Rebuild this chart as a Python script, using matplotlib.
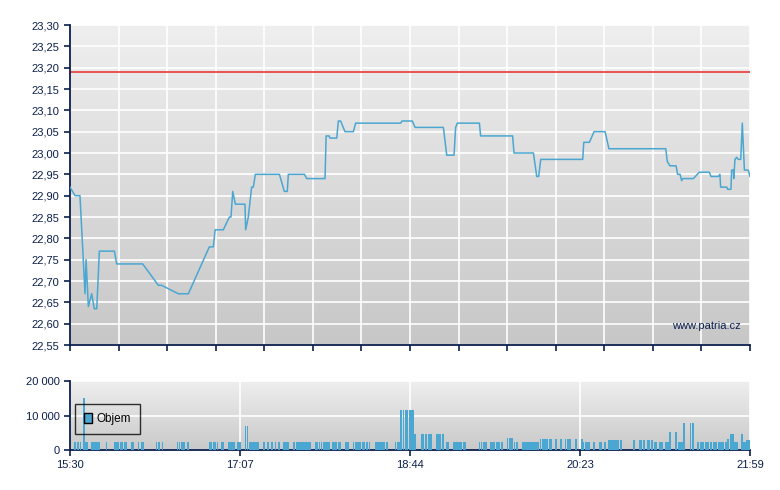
import numpy as np
import matplotlib
matplotlib.use("Agg")
import matplotlib.pyplot as plt
from matplotlib.colors import LinearSegmentedColormap
from matplotlib.patches import Patch
from matplotlib.ticker import FuncFormatter

plt.rcParams['font.family'] = ['Liberation Sans', 'DejaVu Sans']

# price series, minutes after 15:30
price_t = [0, 2.9, 5.7, 8.6, 9.2, 10.5, 12.4, 13.9, 15.3, 16.8, 25.4, 26.7, 41.6, 50.5, 52.4,
           62.0, 67.7, 79.7, 82.0, 83.0, 87.7, 91.2, 92.1, 93.1, 94.6, 100.1, 100.5, 102.0,
           103.9, 104.9, 106.0, 119.8, 122.6, 124.3, 124.9, 134.1, 135.4, 145.9, 146.5, 148.2,
           148.7, 152.6, 153.5, 154.8, 157.3, 162.1, 163.4, 189.2, 189.9, 195.8, 197.4, 213.6,
           215.5, 219.7, 220.6, 221.6, 234.2, 234.9, 253.2, 254.0, 265.1, 267.0, 268.1, 269.3,
           293.3, 293.9, 297.1, 299.8, 306.1, 308.3, 340.8, 341.7, 343.2, 346.7, 347.6, 349.0,
           349.9, 350.5, 356.6, 360.0, 365.7, 366.7, 370.9, 371.8, 372.2, 375.7, 376.2, 378.1,
           378.5, 379.5, 379.7, 380.4, 381.4, 382.3, 383.7, 384.6, 385.8, 388.0, 389.0]
price = [22.92, 22.90, 22.90, 22.67, 22.75, 22.64, 22.67, 22.635, 22.635, 22.77, 22.77, 22.74,
         22.74, 22.69, 22.69, 22.67, 22.67, 22.78, 22.78, 22.82, 22.82, 22.85, 22.85, 22.91,
         22.88, 22.88, 22.82, 22.85, 22.92, 22.92, 22.95, 22.95, 22.91, 22.91, 22.95, 22.95,
         22.94, 22.94, 23.04, 23.04, 23.035, 23.035, 23.075, 23.075, 23.05, 23.05, 23.07, 23.07,
         23.075, 23.075, 23.06, 23.06, 22.995, 22.995, 23.06, 23.07, 23.07, 23.04, 23.04, 23.00,
         23.00, 22.945, 22.945, 22.985, 22.985, 23.025, 23.025, 23.05, 23.05, 23.01, 23.01,
         22.98, 22.97, 22.97, 22.95, 22.95, 22.935, 22.94, 22.94, 22.955, 22.955, 22.945,
         22.945, 22.95, 22.92, 22.92, 22.915, 22.915, 22.96, 22.96, 22.94, 22.985, 22.99,
         22.985, 22.985, 23.07, 22.96, 22.96, 22.945]
prev_close = 23.19

# volume bars, minutes after 15:30
vol_t = [3, 4.5, 6, 8, 9, 10, 12.6, 13.7, 14.9, 16, 16.6, 20.8, 25.4, 26.3, 27.6, 28.8, 29.7,
         31.5, 32.2, 35.1, 36, 36.4, 39.1, 40.8, 41.6, 49.4, 50.9, 52.8, 61.6, 62.7, 63.7, 64.7,
         65.6, 67.3, 67.9, 79.7, 80.8, 82.0, 83.1, 84.3, 86.8, 87.5, 91.1, 92.1, 93.1, 94.2,
         96.1, 97.1,
         100.3, 101.5, 103.1, 104.1, 104.9, 105.8, 106.5, 107.0, 107.7, 111.1, 113.3, 115.6,
         117.5, 119.7, 122.4, 123.3, 124.2, 125.1, 128.1, 130.0, 131, 132, 133, 134, 135,
         136.3, 137.3, 140.8, 141.7, 142.8, 143.8, 145, 146, 147, 148, 150.3, 151.3, 152.2,
         153.5, 154.5, 157.5, 158.5, 159.3, 162.3, 163.3, 164.3, 165.3, 166.3, 167.3, 168.3,
         169.5, 170.3, 171.3, 175.2, 176.2, 177.3, 178.5, 179.6, 181.2, 186.1, 187.6, 188.6,
         189.3, 190.9, 191.9, 192.9, 194.4, 195.4, 196.3,
         197.4, 201, 202, 203.6, 205.4, 206.5, 209.6, 210.4, 211.5, 213.4, 215.4, 216.4,
         219.4, 220.4, 221.4, 222.5, 223.7, 225, 225.8, 234.3, 235.3, 236.8, 238.0, 240.5,
         241.5, 242.5, 244.3, 245.4, 246.8, 247.5, 250.3, 251.3, 252.3, 253.1, 254.3, 255.8,
         259.1, 260.3, 261.3, 262.3, 263.3, 264.2, 265.2, 266.0, 266.8, 267.8, 269.2, 270.2,
         271.2, 272.2, 273.1, 274.3, 275.3, 277.8, 278.4, 280.9, 283.5, 284.5, 285.5, 286.3,
         289.2, 289.8, 292.9,
         293.7, 294.9, 295.6, 296.6, 297.3, 299.8, 302.8, 303.8, 305.7, 306.4, 308.5, 309.5,
         310.5, 311.5, 312.2, 313.5, 314.8, 315.6, 322.6, 325.7, 326.7, 328.4, 330.3, 331.3,
         332.9, 334.3, 335.3, 337.2, 338.0, 339.0, 340.6, 341.6, 342.5, 343.2, 346.3, 347.0,
         348.0, 349.0, 350.0, 350.9, 351.6, 354.9, 356.0, 356.8, 359.2, 360.6, 361.3, 362.1,
         363.8, 365.0, 366.3, 367.0, 368, 369, 369.9, 370.9, 371.9, 372.8, 373.5, 374.9, 375.6,
         376.2, 376.8, 378.1, 379.3, 380, 381, 381.9, 384.4, 385.2, 386.0, 386.6, 387.3, 388.5]
vol = [2300, 2300, 2300, 15200, 2300, 2300, 2300, 2300, 2300, 2300, 2300, 2300, 2300, 2300,
       2300, 2300, 2300, 2300, 2300, 2300, 2300, 2300, 2300, 2300, 2300, 2300, 2300, 2300,
       2300, 2300, 2300, 2300, 2300, 2300, 2300, 2300, 2300, 2300, 2300, 2300, 2300, 2300,
       2300, 2300, 2300, 2300, 2300, 2300,
       7000, 7000, 2300, 2300, 2300, 2300, 2300, 2300, 2300, 2300, 2300, 2300, 2300, 2300,
       2300, 2300, 2300, 2300, 2300, 2300, 2300, 2300, 2300, 2300, 2300, 2300, 2300, 2300,
       2300, 2300, 2300, 2300, 2300, 2300, 2300, 2300, 2300, 2300, 2300, 2300, 2300, 2300,
       2300, 2300, 2300, 2300, 2300, 2300, 2300, 2300, 2300, 2300, 2300, 2300, 2300, 2300,
       2300, 2300, 2300, 2300, 2300, 2300,
       11600, 11600, 11600, 11600, 11600, 11600, 11600,
       4600, 4600, 4600, 4600, 4600, 4600, 4600, 4600, 4600, 4600, 2300, 2300, 2300, 2300,
       2300, 2300, 2300, 2300, 2300, 2300, 2300, 2300, 2300, 2300, 2300, 2300, 2300, 2300,
       2300, 2300, 3500, 3500, 3500, 3500, 2300, 2300, 2300, 2300, 2300, 2300, 2300, 2300,
       2300, 2300, 2300, 2300, 3200, 3200, 3200, 3200, 3200, 3200, 3200, 3200, 3200, 3200,
       3200, 3200, 3200, 3200, 3200, 3200, 3200,
       2300, 2300, 2300, 2300, 2300, 2300, 2300, 2300, 2300, 2300, 2900, 2900, 2900, 2900,
       2900, 2900, 2900, 2900, 2900, 2900, 2900, 2900, 2900, 2900, 2900, 2300, 2300, 2300,
       2300, 2300, 2300, 2300, 2300, 5200, 5200, 5200, 2300, 2300, 2300, 7800, 7800, 7800,
       7800, 7800, 2300, 2300, 2300, 2300, 2300, 2300, 2300, 2300, 2300, 2300, 2300, 2300,
       2300, 2300, 2300, 2300, 2300, 3200, 3200, 4600, 4600, 2300, 2300, 2300, 4600, 2300,
       2300, 2300, 2900, 2900]

time_labels = ['15:30', '17:07', '18:44', '20:23', '21:59']

t_end = 389
navy = '#0b1f4d'
blue = '#4aa7d1'

def gradient(ax, top, bottom):
    cmap = LinearSegmentedColormap.from_list('bg', [bottom, top])
    ax.imshow(np.linspace(1, 0, 256).reshape(-1, 1), cmap=cmap, aspect='auto',
              extent=[0, 1, 0, 1], transform=ax.transAxes, zorder=0)

def style(ax):
    for s in ['top', 'right']:
        ax.spines[s].set_visible(False)
    for s in ['left', 'bottom']:
        ax.spines[s].set_color(navy)
        ax.spines[s].set_linewidth(1.3)
    ax.tick_params(colors=navy, labelcolor=navy, labelsize=8, length=4, width=1.2)
    ax.set_axisbelow(True)
    ax.grid(True, color='white', linewidth=1.2)

fig = plt.figure(figsize=(7.8, 4.9), dpi=100)
ax1 = fig.add_axes([70 / 780, 145 / 490, 680 / 780, 320 / 490])
ax2 = fig.add_axes([70 / 780, 40 / 490, 680 / 780, 69 / 490])

# price panel
gradient(ax1, '#efefef', '#c7c7c7')
style(ax1)
ax1.plot(price_t, price, color=blue, linewidth=1.1, zorder=3)
ax1.axhline(prev_close, color='#e8282a', linewidth=1.1, zorder=2)
ax1.set_xlim(0, t_end)
ax1.set_ylim(22.55, 23.30)
ax1.set_yticks(np.arange(22.55, 23.301, 0.05))
ax1.yaxis.set_major_formatter(FuncFormatter(lambda v, p: ('%.2f' % v).replace('.', ',')))
ax1.set_xticks(np.linspace(0, t_end, 15))
ax1.set_xticklabels([])
ax1.text(0.987, 0.06, 'www.patria.cz', transform=ax1.transAxes, ha='right', va='center',
         fontsize=8, color=navy, zorder=4)

# volume panel
gradient(ax2, '#efefef', '#c9c9c9')
style(ax2)
ax2.bar(vol_t, vol, width=0.9, color=blue, linewidth=0, zorder=3)
ax2.set_xlim(0, t_end)
ax2.set_ylim(0, 20000)
ax2.set_yticks([0, 10000, 20000])
ax2.yaxis.set_major_formatter(FuncFormatter(lambda v, p: '{:,}'.format(int(v)).replace(',', ' ')))
ax2.set_xticks(np.linspace(0, t_end, len(time_labels)))
ax2.set_xticklabels(time_labels)
leg = ax2.legend(handles=[Patch(facecolor=blue, edgecolor='black', linewidth=1)], labels=['Objem'],
                 loc='upper left', bbox_to_anchor=(0.007, 0.66), fontsize=8.5, frameon=True,
                 fancybox=False, handlelength=0.7, handleheight=0.9, handletextpad=0.4,
                 borderpad=0.75, borderaxespad=0)
leg.get_frame().set_edgecolor('black')
leg.get_frame().set_facecolor('none')
leg.get_frame().set_linewidth(1)
leg.set_zorder(5)

plt.savefig('out.png', dpi=100)
